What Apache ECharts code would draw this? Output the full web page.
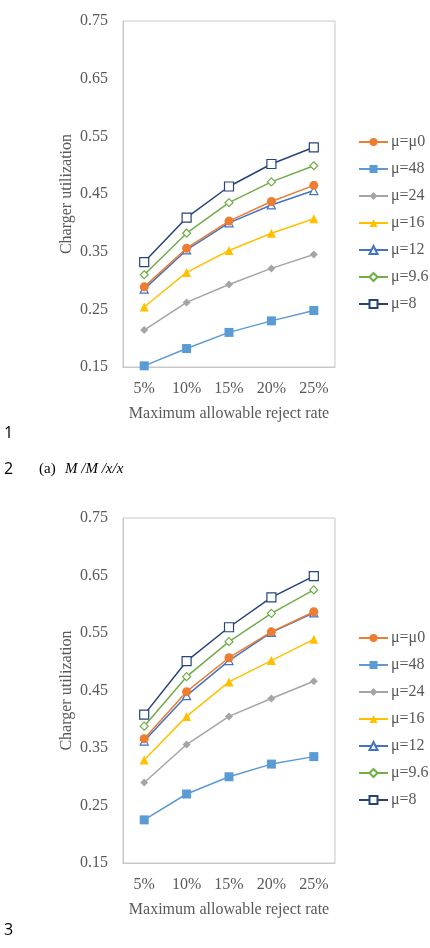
<!DOCTYPE html>
<html>
<head>
<meta charset="utf-8">
<script src="https://cdn.jsdelivr.net/npm/echarts@6/dist/echarts.min.js"></script>
<style>
  html, body { margin: 0; padding: 0; background: #fff; }
  #chart { width: 430px; height: 948px; }
</style>
</head>
<body>
<div id="chart"></div>
<script>
// categories (x axis)
const rejectRates = ["5%", "10%", "15%", "20%", "25%"];
const seriesNames = ["μ=μ0", "μ=48", "μ=24", "μ=16", "μ=12", "μ=9.6", "μ=8"];

// (a) M/M/x/x
const topMu0 = [0.289, 0.356, 0.403, 0.437, 0.465];
const top48 = [0.152, 0.182, 0.210, 0.230, 0.248];
const top24 = [0.214, 0.262, 0.293, 0.321, 0.345];
const top16 = [0.254, 0.314, 0.352, 0.382, 0.407];
const top12 = [0.285, 0.353, 0.400, 0.431, 0.456];
const top96 = [0.310, 0.382, 0.435, 0.471, 0.499];
const top8 = [0.332, 0.409, 0.463, 0.502, 0.531];

// second chart
const botMu0 = [0.366, 0.448, 0.507, 0.552, 0.587];
const bot48 = [0.225, 0.270, 0.300, 0.322, 0.335];
const bot24 = [0.290, 0.356, 0.405, 0.436, 0.466];
const bot16 = [0.329, 0.405, 0.465, 0.502, 0.539];
const bot12 = [0.362, 0.441, 0.502, 0.551, 0.585];
const bot96 = [0.388, 0.474, 0.535, 0.584, 0.625];
const bot8 = [0.408, 0.501, 0.560, 0.612, 0.649];

const yMin = 0.15, yMax = 0.75, yStep = 0.1;

const topData = [topMu0, top48, top24, top16, top12, top96, top8];
const botData = [botMu0, bot48, bot24, bot16, bot12, bot96, bot8];

// marker look per series
const styles = [
  { color: "#ED7D31", symbol: "circle", size: 9, hollow: false },
  { color: "#5B9BD5", symbol: "rect", size: 9, hollow: false },
  { color: "#A5A5A5", symbol: "diamond", size: 8, hollow: false },
  { color: "#FFC000", symbol: "triangle", size: 9, hollow: false },
  { color: "#4472C4", symbol: "triangle", size: 8, hollow: true },
  { color: "#70AD47", symbol: "diamond", size: 8, hollow: true },
  { color: "#264478", symbol: "rect", size: 9, hollow: true }
];

const textGray = "#595959";
const lineGray = "#c8c8c8";
const serif = "'Liberation Serif', 'Times New Roman', serif";

function makeX(idx) {
  return {
    type: "category",
    gridIndex: idx,
    data: rejectRates,
    boundaryGap: true,
    name: "Maximum allowable reject rate",
    nameLocation: "middle",
    nameGap: 39,
    nameTextStyle: { color: textGray, fontSize: 16, fontFamily: serif },
    axisLine: { lineStyle: { color: lineGray } },
    axisTick: { inside: true, length: 5, lineStyle: { color: lineGray } },
    axisLabel: { color: textGray, fontSize: 16, fontFamily: serif, margin: 14 }
  };
}

function makeY(idx) {
  return {
    type: "value",
    gridIndex: idx,
    min: yMin,
    max: yMax,
    interval: yStep,
    name: "Charger utilization",
    nameLocation: "middle",
    nameGap: 48,
    nameTextStyle: { color: textGray, fontSize: 16, fontFamily: serif },
    axisLine: { show: true, lineStyle: { color: lineGray } },
    axisTick: { show: false },
    splitLine: { show: false },
    axisLabel: {
      color: textGray, fontSize: 16, fontFamily: serif, margin: 15,
      formatter: function (v) { return v.toFixed(2); }
    }
  };
}

function makeSeries(dataSet, idx) {
  return dataSet.map(function (vals, i) {
    const s = styles[i];
    return {
      name: seriesNames[i],
      type: "line",
      xAxisIndex: idx,
      yAxisIndex: idx,
      data: vals,
      symbol: s.symbol,
      symbolSize: s.size,
      showAllSymbol: true,
      lineStyle: { color: s.color, width: 1.5 },
      itemStyle: s.hollow
        ? { color: "#fff", borderColor: s.color, borderWidth: 1.2 }
        : { color: s.color, borderColor: s.color, borderWidth: 0 },
      emphasis: { disabled: true },
      z: 10 - i
    };
  });
}

function makeLegend(top) {
  return {
    data: seriesNames,
    orient: "vertical",
    left: 353,
    top: top,
    itemWidth: 29,
    itemHeight: 10,
    itemGap: 11,
    selectedMode: false,
    textStyle: { color: textGray, fontSize: 16, fontFamily: serif, padding: [0, 0, 0, -2] }
  };
}

const chart = echarts.init(document.getElementById("chart"), null, { renderer: "canvas" });

chart.setOption({
  backgroundColor: "#fff",
  animation: false,
  grid: [
    { left: 123, top: 21, width: 212, height: 346, show: true, borderColor: lineGray, borderWidth: 1, containLabel: false },
    { left: 123, top: 518, width: 212, height: 345, show: true, borderColor: lineGray, borderWidth: 1, containLabel: false }
  ],
  xAxis: [makeX(0), makeX(1)],
  yAxis: [makeY(0), makeY(1)],
  legend: [makeLegend(129), makeLegend(625)],
  series: makeSeries(topData, 0).concat(makeSeries(botData, 1)),
  graphic: [
    { type: "text", left: 4, top: 425, style: { text: "1", fontSize: 16, fontFamily: "'Open Sans', sans-serif", fill: "#000" } },
    { type: "text", left: 4, top: 461, style: { text: "2", fontSize: 16, fontFamily: "'Open Sans', sans-serif", fill: "#000" } },
    { type: "text", left: 39, top: 462, style: { text: "(a)", fontSize: 15, fontFamily: serif, fill: "#000" } },
    { type: "text", left: 65, top: 462, style: { text: "M /M /x/x", fontSize: 15, fontStyle: "italic", fontFamily: serif, fill: "#000" } },
    { type: "text", left: 4, top: 922, style: { text: "3", fontSize: 16, fontFamily: "'Open Sans', sans-serif", fill: "#000" } }
  ]
});
</script>
</body>
</html>
